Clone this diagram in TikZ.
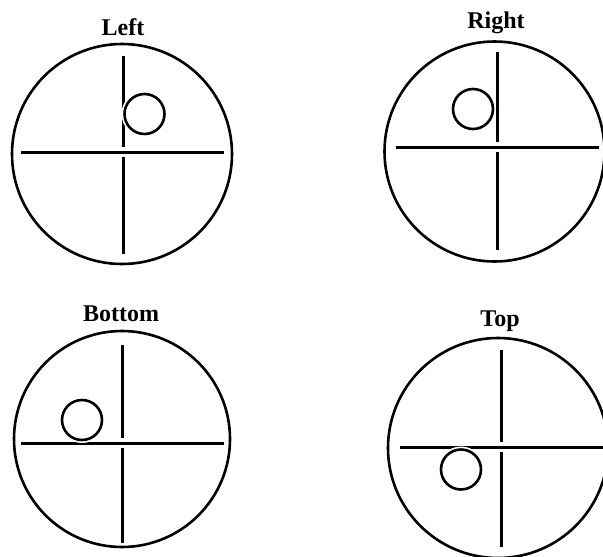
\documentclass[tikz,border=0pt]{standalone}
\usepackage{fontspec}
\setmainfont{Liberation Serif}
\begin{document}
\begin{tikzpicture}[x=1pt,y=-1pt,
  bigc/.style={circle,draw,line width=2.6pt,minimum size=220pt,inner sep=0pt},
  smallc/.style={circle,draw,line width=2.6pt,minimum size=40pt,inner sep=0pt,preaction={draw=white,line width=6pt}},
  hair/.style={line width=3pt},
  lab/.style={font=\bfseries\fontsize{24}{28}\selectfont,anchor=base,inner sep=0pt}]
\useasboundingbox (0,0) rectangle (603,557);
% Left
\node[lab] (tL) at (123,35) {Left};
\node[bigc] (cL) at (122,154) {};
\draw[hair] (21,152) -- (224,152);
\draw[hair] (123,56) -- (123,147);
\draw[hair] (123,157) -- (123,254);
\node[smallc] (sL) at (144.5,114) {};
% Right
\node[lab] (tR) at (496,28) {Right};
\node[bigc] (cR) at (494.5,151.5) {};
\draw[hair] (396,147) -- (599,147);
\draw[hair] (497,52) -- (497,142);
\draw[hair] (497,152) -- (497,250);
\node[smallc] (sR) at (473,109) {};
% Bottom
\node[lab] (tB) at (121,321) {Bottom};
\node[bigc,minimum size=216pt] (cB) at (122,439) {};
\draw[hair] (21,443) -- (224,443);
\draw[hair] (122,345) -- (122,438);
\draw[hair] (122,448) -- (122,543);
\node[smallc] (sB) at (82,420) {};
% Top
\node[lab] (tT) at (500,326) {Top};
\node[bigc] (cT) at (498,448) {};
\draw[hair] (400,447) -- (608,447);
\draw[hair] (501,350) -- (501,442);
\draw[hair] (501,452) -- (501,547);
\node[smallc] (sT) at (461,469.5) {};
\end{tikzpicture}
\end{document}
